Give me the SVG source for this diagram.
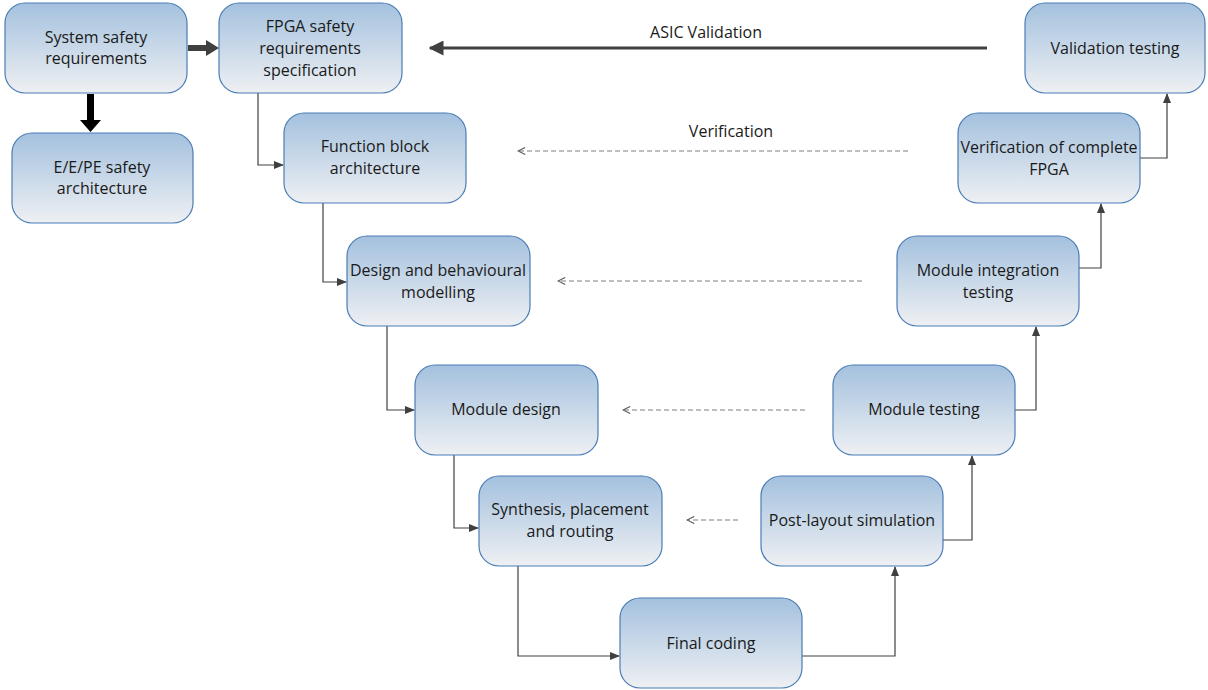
<svg xmlns="http://www.w3.org/2000/svg" width="1208" height="690" viewBox="0 0 1208 690">
<defs>
<linearGradient id="g" x1="0" y1="0" x2="0" y2="1">
<stop offset="0" stop-color="#a4c1de"/>
<stop offset="1" stop-color="#eef0f3"/>
</linearGradient>
<marker id="ah" viewBox="0 0 10 10" refX="9" refY="5" markerWidth="10" markerHeight="10" markerUnits="userSpaceOnUse" orient="auto">
<path d="M0,1 L10,5 L0,9 z" fill="#404040"/>
</marker>
<marker id="big" viewBox="0 0 10 10" refX="9" refY="5" markerWidth="15" markerHeight="15" markerUnits="userSpaceOnUse" orient="auto">
<path d="M0,0 L10,5 L0,10 z" fill="#404040"/>
</marker>
<marker id="open" viewBox="0 0 10 10" refX="9" refY="5" markerWidth="9" markerHeight="9" markerUnits="userSpaceOnUse" orient="auto">
<path d="M1,1 L9,5 L1,9" fill="none" stroke="#595959" stroke-width="1.2"/>
</marker>
</defs>
<style>
.n rect{fill:url(#g);stroke:#4a7db5;stroke-width:1.2}
.n text{font-family:"Open Sans","Liberation Sans",sans-serif;font-size:16px;fill:#1a1a1a;text-anchor:middle}
.c{fill:none;stroke:#404040;stroke-width:1.2}
.d{fill:none;stroke:#7f7f7f;stroke-width:1.2;stroke-dasharray:5 3}
.lbl{font-family:"Open Sans","Liberation Sans",sans-serif;font-size:16px;fill:#1a1a1a;text-anchor:middle}
</style>
<g id="connectors">
<path d="M188,45 L206,45 L206,40 L219,48 L206,56 L206,51 L188,51 z" fill="#404040"/>
<path d="M87,94 L94,94 L94,120 L101,120 L90.5,132 L80,120 L87,120 z" fill="#000"/>
<path class="c" d="M258,93 V165 H283" marker-end="url(#ah)"/>
<path class="c" d="M323,203 V282 H346" marker-end="url(#ah)"/>
<path class="c" d="M387,326 V410 H414" marker-end="url(#ah)"/>
<path class="c" d="M454,455 V528 H478" marker-end="url(#ah)"/>
<path class="c" d="M518,566 V656 H619" marker-end="url(#ah)"/>
<path class="c" d="M802,656 H895 V567" marker-end="url(#ah)"/>
<path class="c" d="M943,540 H972 V456" marker-end="url(#ah)"/>
<path class="c" d="M1015,410 H1036 V327" marker-end="url(#ah)"/>
<path class="c" d="M1079,268 H1101 V204" marker-end="url(#ah)"/>
<path class="c" d="M1140,158 H1167 V94" marker-end="url(#ah)"/>
<path d="M987,48 H430" fill="none" stroke="#404040" stroke-width="3" marker-end="url(#big)"/>
<text class="lbl" x="706" y="38">ASIC Validation</text>
<path class="d" d="M908,151 H518" marker-end="url(#open)"/>
<text class="lbl" x="731" y="137">Verification</text>
<path class="d" d="M862,281 H558" marker-end="url(#open)"/>
<path class="d" d="M805,410 H623" marker-end="url(#open)"/>
<path class="d" d="M738,520 H687" marker-end="url(#open)"/>
</g>
<g id="n1" class="n"><rect x="5" y="3" width="182" height="90" rx="20"/><text x="96" y="43">System safety</text><text x="96" y="64">requirements</text></g>
<g id="n2" class="n"><rect x="219" y="3" width="183" height="90" rx="20"/><text x="310" y="32">FPGA safety</text><text x="310" y="54">requirements</text><text x="310" y="76">specification</text></g>
<g id="n3" class="n"><rect x="12" y="133" width="181" height="90" rx="20"/><text x="102" y="173">E/E/PE safety</text><text x="102" y="194">architecture</text></g>
<g id="n4" class="n"><rect x="284" y="113" width="182" height="90" rx="20"/><text x="375" y="152">Function block</text><text x="375" y="174">architecture</text></g>
<g id="n5" class="n"><rect x="1025" y="3" width="180" height="90" rx="20"/><text x="1115" y="54">Validation testing</text></g>
<g id="n6" class="n"><rect x="958" y="113" width="182" height="90" rx="20"/><text x="1049" y="153">Verification of complete</text><text x="1049" y="175">FPGA</text></g>
<g id="n7" class="n"><rect x="347" y="236" width="183" height="90" rx="20"/><text x="438" y="276">Design and behavioural</text><text x="438" y="298">modelling</text></g>
<g id="n8" class="n"><rect x="897" y="236" width="182" height="90" rx="20"/><text x="988" y="276">Module integration</text><text x="988" y="298">testing</text></g>
<g id="n9" class="n"><rect x="415" y="365" width="183" height="90" rx="20"/><text x="506" y="415">Module design</text></g>
<g id="n10" class="n"><rect x="833" y="365" width="182" height="90" rx="20"/><text x="924" y="415">Module testing</text></g>
<g id="n11" class="n"><rect x="479" y="476" width="183" height="90" rx="20"/><text x="570" y="515">Synthesis, placement</text><text x="570" y="537">and routing</text></g>
<g id="n12" class="n"><rect x="761" y="476" width="182" height="90" rx="20"/><text x="852" y="526">Post-layout simulation</text></g>
<g id="n13" class="n"><rect x="620" y="598" width="182" height="90" rx="20"/><text x="711" y="649">Final coding</text></g>
</svg>
